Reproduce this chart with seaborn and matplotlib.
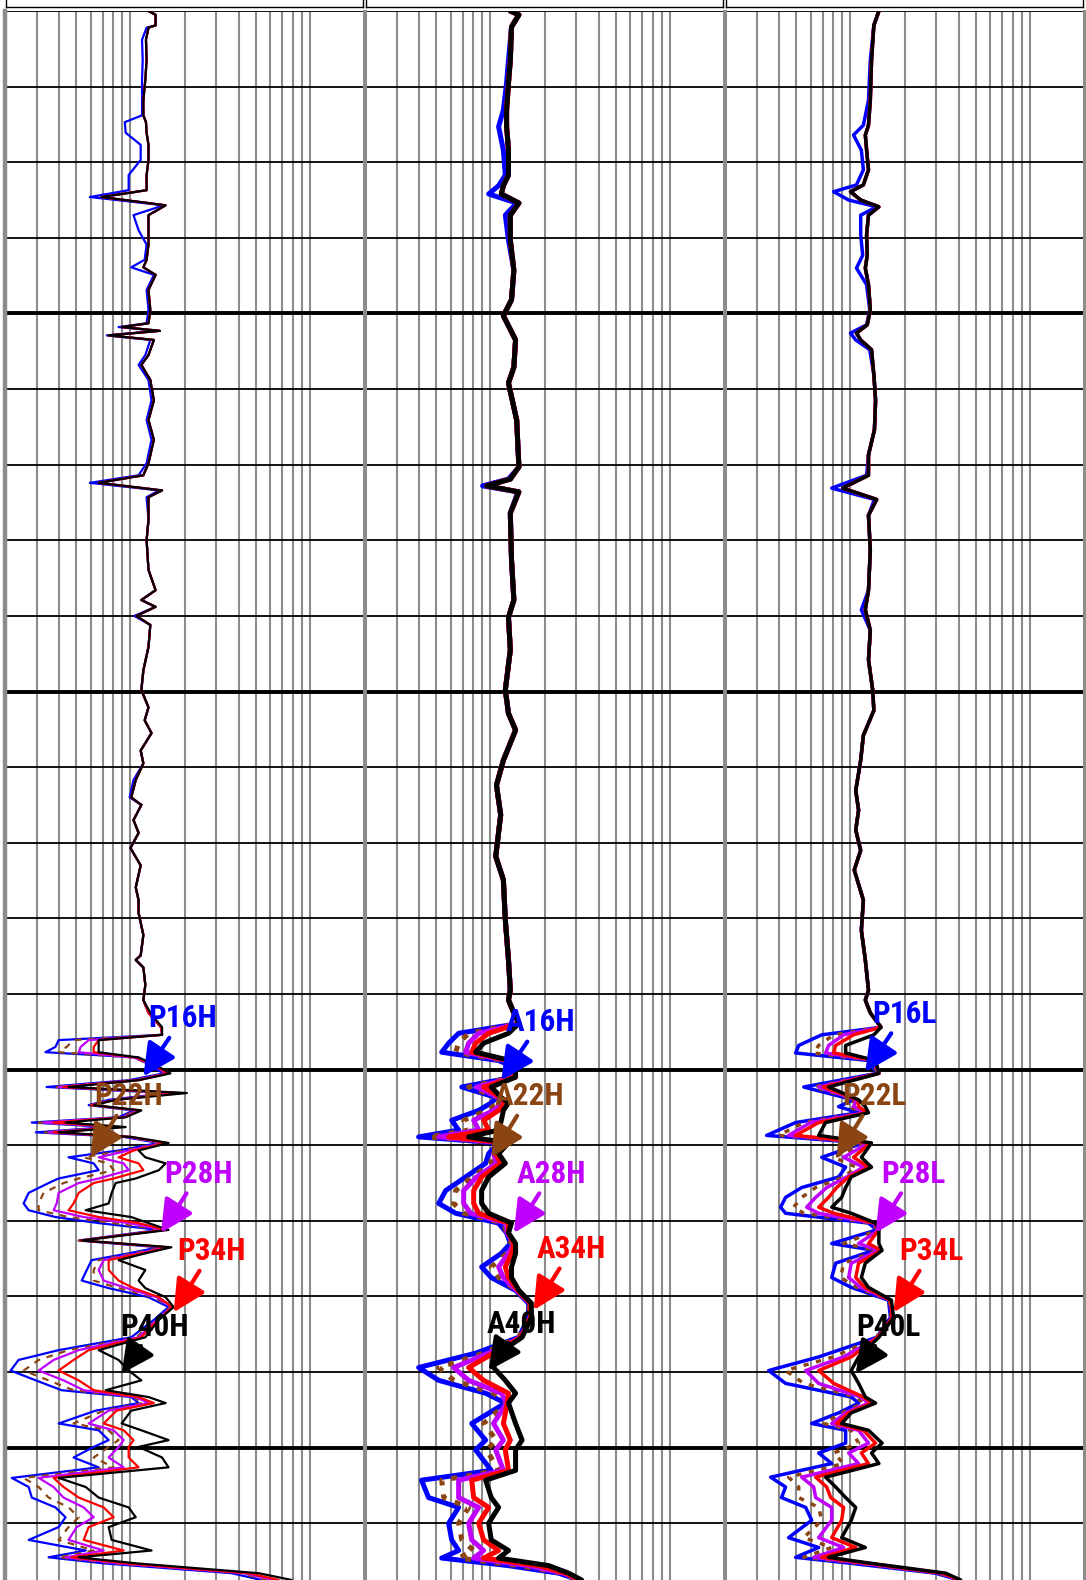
import matplotlib
matplotlib.use("Agg")
import matplotlib.pyplot as plt
from matplotlib import font_manager as fm
import seaborn as sns

# ---------------------------------------------------------------------
# Resistivity curves (ohm.m).
# Upper interval: the five curves nearly overlay, only blue drifts left.
# Lower interval: the five curves separate (blue < brown < purple < red < black)
# ---------------------------------------------------------------------

# ---- track 1 (P..H) ----
t1_upper_depth = [10.0, 10.5, 11.9, 12.2, 13.8, 16.5, 19.1, 21.8, 23.8, 24.7, 26.1, 27.7, 29.7, 31.7, 33.7, 34.6,
                  35.7, 37.0, 39.0, 40.9, 42.9, 43.9, 44.9, 46.9, 49.5, 51.3, 51.8, 52.3, 52.9, 53.5, 55.5, 56.8,
                  58.8, 61.5, 64.1, 66.7, 69.8, 71.4, 72.4, 73.4, 74.3, 77.3, 80.0, 83.9, 86.6, 87.9, 88.8, 90.0,
                  91.2, 94.1, 97.2, 99.8, 102.1, 103.8, 105.5, 107.8, 109.5, 111.7, 114.0, 115.0, 117.0, 118.7,
                  120.7, 123.0, 125.9, 127.6, 129.3, 132.2, 134.9, 135.5, 136.5, 138.8]
t1_upper_main = [12.6, 13.8, 13.8, 12.6, 12.2, 12.3, 12.1, 11.8, 11.8, 12.2, 12.3, 12.6, 12.6, 12.3, 12.3, 6.89,
                 15.7, 12.6, 12.6, 12.6, 12.3, 11.8, 13.8, 12.6, 12.9, 12.6, 8.94, 14.6, 7.56, 13.5, 12.6, 11.5,
                 12.9, 13.5, 12.6, 13.5, 12.6, 11.8, 6.65, 15.0, 12.6, 12.6, 12.3, 12.6, 13.8, 11.5, 13.8, 10.8,
                 12.9, 12.6, 11.8, 11.5, 12.6, 12.0, 13.1, 11.4, 11.8, 10.7, 10.1, 11.5, 10.4, 11.1,
                 10.0, 11.4, 10.7, 11.1, 11.1, 11.8, 11.4, 10.7, 11.8, 12.1]
t1_upper_blue = [12.6, 13.8, 13.8, 12.3, 11.6, 11.7, 11.6, 11.6, 11.6, 9.30, 9.40, 11.4, 11.4, 9.77, 9.77, 5.94,
                 15.3, 10.4, 11.1, 12.3, 12.0, 10.1, 13.5, 12.3, 12.6, 12.3, 8.59, 14.2, 7.38, 12.9, 12.1, 11.1,
                 12.6, 13.1, 12.3, 13.1, 12.3, 11.1, 5.94, 14.4, 12.3, 12.6, 12.3, 12.6, 13.8, 11.5, 13.8, 10.5,
                 12.9, 12.6, 11.8, 11.5, 12.6, 12.0, 13.1, 11.4, 11.8, 10.4, 9.9, 11.5, 10.4, 11.1,
                 10.0, 11.4, 10.7, 11.1, 11.1, 11.8, 11.4, 10.7, 11.8, 12.1]

t1_lower_depth = [140.8, 142.5, 144.4, 145.4, 146.1, 147.0, 147.7, 148.4, 149.4, 150.5, 151.4, 152.3, 153.1, 154.0,
                  154.7, 155.4, 156.3, 157.0, 157.6, 158.3, 158.9, 159.7, 160.7, 161.6, 162.4, 163.3, 164.4, 165.0,
                  166.3, 167.7, 168.6, 169.5, 170.3, 171.2, 172.6, 173.5, 174.3, 175.2, 176.5, 177.9, 178.9, 180.1,
                  181.4, 183.1, 185.4, 187.1, 188.4, 189.8, 191.1, 192.4, 193.3, 194.1, 195.1, 196.8, 197.7, 199.0,
                  199.9, 201.3, 202.6, 204.0, 205.2, 206.6, 207.9, 209.2, 210.5, 212.2, 213.6, 214.5, 215.3, 216.6,
                  217.5]
p16h = [11.8, 12.6, 14.8, 15.0, 3.98, 3.82, 3.36, 11.1, 12.6, 15.3, 9.77, 3.41, 16.3, 7.56, 5.85, 10.4, 8.59, 2.82,
        7.56, 2.97, 9.16, 14.4, 8.59, 4.52, 6.24, 6.65, 3.98, 3.50, 2.71, 2.54, 2.71, 3.82, 6.65, 14.4, 5.15, 14.4,
        9.77, 6.08, 5.71, 5.35, 7.56, 12.6, 16.3, 13.5, 10.1, 3.98, 2.38, 2.15, 2.97, 4.13, 10.1, 11.1, 6.40, 3.98,
        6.65, 7.56, 6.24, 4.82, 6.65, 2.18, 2.71, 2.82, 3.82, 4.35, 3.98, 2.71, 5.63, 3.50, 7.09, 36.6, 53.8]
p22h = [11.8, 12.6, 14.8, 15.0, 4.82, 4.41, 3.98, 10.4, 12.9, 15.7, 10.4, 3.73, 17.4, 8.06, 6.0, 10.8, 8.82, 3.08,
        8.06, 3.28, 9.52, 15.0, 9.16, 5.49, 7.56, 8.06, 5.15, 4.24, 3.28, 3.08, 3.08, 4.52, 8.06, 15.0, 5.15, 15.3,
        10.4, 6.65, 6.24, 6.24, 8.59, 13.5, 16.7, 13.8, 10.8, 4.52, 3.08, 2.54, 3.50, 4.82, 10.4, 11.8, 7.09, 4.82,
        7.56, 8.59, 7.56, 6.24, 8.06, 2.54, 3.08, 3.50, 4.52, 5.15, 4.52, 3.98, 6.24, 3.98, 8.06, 40.1, 58.9]
p28h = [11.8, 12.6, 14.8, 15.0, 5.85, 5.28, 5.15, 10.4, 13.5, 15.9, 10.8, 3.98, 18.1, 8.06, 6.08, 11.1, 9.04, 3.28,
        8.37, 3.50, 9.77, 15.3, 9.77, 6.65, 9.16, 9.77, 6.65, 5.15, 3.98, 3.88, 3.73, 5.49, 9.77, 15.3, 5.28, 15.9,
        11.1, 7.09, 6.65, 7.09, 9.52, 14.0, 17.0, 14.0, 11.1, 5.15, 3.73, 3.08, 4.24, 5.49, 10.7, 12.6, 7.56, 5.85,
        8.06, 9.16, 8.59, 7.56, 9.16, 3.08, 3.73, 4.24, 5.49, 6.24, 5.02, 4.52, 7.09, 4.35, 8.59, 42.8, 62.8]
p34h = [11.8, 12.6, 14.8, 15.0, 6.65, 6.24, 6.24, 10.8, 13.5, 16.3, 11.1, 4.24, 19.1, 8.27, 6.08, 11.4, 9.28, 3.73,
        8.82, 3.73, 10.0, 15.7, 10.4, 8.59, 11.1, 11.8, 8.06, 6.24, 5.15, 4.82, 4.52, 6.65, 11.1, 15.7, 5.28, 16.3,
        11.5, 7.56, 7.56, 8.59, 10.4, 14.4, 17.1, 14.2, 11.5, 5.85, 4.82, 3.98, 5.15, 6.24, 11.1, 13.5, 8.37, 7.09,
        9.16, 10.4, 9.77, 9.77, 11.1, 3.73, 4.24, 5.15, 7.09, 8.06, 5.85, 5.49, 9.16, 4.70, 9.52, 45.6, 67.0]
p40h = [11.8, 12.9, 15.0, 15.0, 6.65, 6.65, 6.65, 11.1, 13.8, 16.7, 11.1, 4.52, 20.6, 8.27, 6.24, 11.5, 9.40, 4.35,
        9.40, 3.98, 10.1, 16.3, 11.1, 12.1, 15.7, 14.4, 10.7, 8.27, 7.86, 7.56, 5.63, 10.1, 12.6, 16.3, 5.35, 16.9,
        12.1, 8.59, 12.1, 11.1, 12.1, 15.7, 17.4, 14.4, 12.1, 6.65, 8.59, 9.77, 11.5, 7.27, 12.6, 15.7, 10.1, 8.93,
        11.5, 16.3, 11.1, 15.0, 16.3, 3.98, 5.63, 6.65, 9.77, 10.7, 7.56, 7.86, 13.1, 5.15, 10.8, 51.8, 79.2]

# ---- track 2 (A..H) ----
t2_upper_depth = [10.0, 10.5, 12.1, 16.5, 19.5, 23.1, 25.3, 28.4, 31.7, 33.1, 34.2, 35.4, 37.0, 40.3, 44.3, 48.2,
                  50.3, 53.5, 57.1, 59.2, 64.1, 70.3, 71.9, 72.8, 73.6, 76.4, 82.6, 87.9, 90.2, 94.5, 99.8, 102.9,
                  105.1, 109.1, 112.4, 116.3, 121.8, 124.9, 130.2, 135.5, 139.5]
t2_upper_main = [12.9, 14.4, 13.1, 12.9, 12.6, 12.3, 12.3, 12.6, 12.6, 11.8, 11.5, 14.4, 12.9, 12.9, 13.5, 13.1,
                 11.8, 13.8, 13.5, 12.6, 14.0, 14.4, 12.9, 9.52, 14.4, 12.9, 13.1, 13.5, 12.6, 12.9, 12.1, 12.6,
                 13.8, 11.8, 10.8, 11.4, 10.7, 11.8, 12.1, 12.6, 12.9]
t2_upper_blue = [12.9, 14.4, 13.1, 12.6, 12.3, 11.8, 11.1, 11.8, 12.1, 11.1, 9.77, 14.0, 12.1, 12.6, 13.5, 13.1,
                 11.8, 13.8, 13.5, 12.6, 14.0, 14.4, 12.6, 9.04, 14.2, 12.9, 13.1, 13.5, 12.6, 12.9, 12.1, 12.6,
                 13.8, 11.8, 10.8, 11.4, 10.7, 11.8, 12.1, 12.6, 12.9]

t2_lower_depth = [140.8, 142.5, 143.9, 145.2, 146.5, 147.7, 148.8, 149.7, 151.0, 152.3, 153.7, 154.4, 155.4, 156.7,
                  158.0, 158.9, 159.7, 161.1, 162.4, 164.2, 166.0, 167.7, 169.0, 170.3, 171.6, 173.0, 174.3, 176.1,
                  177.5, 179.2, 180.9, 182.8, 185.4, 187.5, 189.4, 191.1, 192.8, 194.1, 196.8, 199.0, 200.3, 203.0,
                  204.3, 206.6, 207.9, 210.0, 212.2, 213.6, 214.6, 215.6, 216.6, 217.5]
a16h = [12.6, 13.5, 14.4, 6.65, 5.85, 5.35, 11.1, 13.5, 13.5, 6.92, 10.8, 10.1, 8.59, 6.08, 6.65, 3.98, 11.1, 9.77,
        9.40, 7.27, 5.63, 5.15, 6.40, 11.1, 12.3, 12.9, 11.5, 8.93, 10.1, 13.8, 16.3, 16.3, 14.4, 8.27, 3.98, 5.15,
        9.40, 12.1, 7.86, 9.40, 8.27, 10.1, 4.13, 4.52, 6.65, 5.85, 6.08, 6.65, 5.35, 12.6, 24.0, 31.0]
a22h = [12.6, 13.5, 14.4, 7.56, 6.65, 6.40, 11.8, 13.5, 13.5, 7.56, 11.1, 11.1, 9.52, 7.09, 7.56, 4.52, 11.5, 10.1,
        10.1, 7.86, 6.40, 6.24, 7.09, 11.8, 12.3, 13.1, 12.3, 10.1, 11.1, 14.0, 16.5, 16.3, 14.4, 9.16, 5.15, 6.24,
        10.4, 12.3, 9.16, 10.8, 9.52, 11.1, 5.35, 5.49, 7.56, 6.65, 6.92, 8.06, 6.65, 14.4, 25.0, 31.0]
a28h = [12.6, 13.5, 14.4, 8.59, 7.56, 7.27, 12.3, 13.5, 13.7, 8.37, 11.2, 11.8, 10.4, 8.06, 8.59, 5.15, 11.8, 10.4,
        10.8, 8.37, 7.09, 7.09, 7.76, 12.3, 12.4, 13.5, 12.6, 11.1, 11.8, 14.0, 16.7, 16.7, 14.8, 9.77, 6.24, 7.56,
        11.5, 12.3, 10.4, 11.8, 10.7, 11.8, 6.65, 6.65, 8.59, 7.56, 7.86, 9.16, 8.06, 16.3, 25.6, 31.8]
a34h = [12.6, 13.5, 14.4, 9.77, 8.27, 7.86, 12.6, 13.5, 13.7, 9.16, 11.4, 12.1, 11.1, 9.16, 9.77, 5.85, 12.3, 10.7,
        11.4, 8.93, 8.06, 8.06, 8.59, 12.6, 12.6, 13.5, 13.1, 12.1, 12.6, 14.2, 16.7, 16.7, 14.8, 10.4, 7.56, 9.16,
        12.6, 12.4, 11.8, 12.9, 12.1, 12.6, 7.86, 8.06, 9.77, 8.59, 9.16, 11.1, 9.16, 18.6, 26.3, 31.8]
a40h = [12.6, 13.5, 14.4, 12.6, 9.16, 8.27, 12.9, 13.8, 13.8, 10.1, 11.5, 12.6, 11.8, 11.5, 11.1, 7.56, 12.6, 11.1,
        12.1, 9.77, 8.93, 8.93, 9.77, 13.1, 12.6, 13.8, 13.8, 13.1, 13.1, 14.4, 16.9, 16.9, 15.0, 11.1, 10.4, 12.1,
        13.8, 12.6, 13.8, 15.0, 13.8, 13.8, 9.40, 10.1, 11.1, 9.77, 10.1, 12.6, 11.1, 21.1, 27.3, 32.2]

# ---- track 3 (P..L) ----
t3_upper_depth = [10.0, 11.9, 16.5, 21.8, 25.1, 26.4, 28.4, 31.0, 33.0, 33.9, 35.0, 35.9, 37.0, 39.6, 42.3, 44.0,
                  46.2, 49.5, 51.5, 52.6, 53.5, 54.8, 58.1, 61.5, 65.4, 68.7, 71.4, 73.1, 74.6, 76.7, 81.3, 86.6,
                  89.2, 91.9, 95.8, 99.8, 102.5, 105.8, 109.1, 113.1, 115.7, 118.3, 121.0, 123.6, 127.6, 131.6,
                  135.5, 139.5]
t3_upper_main = [14.4, 13.5, 13.1, 12.9, 12.6, 12.1, 12.3, 12.6, 11.8, 10.0, 11.4, 14.4, 12.6, 12.3, 12.4, 12.1,
                 12.6, 12.9, 12.4, 10.8, 11.4, 13.1, 13.5, 13.8, 13.6, 12.6, 12.6, 9.04, 14.0, 12.6, 12.9, 12.6,
                 12.1, 12.9, 12.6, 13.3, 13.5, 11.8, 11.4, 10.7, 11.1, 10.7, 11.4, 10.5, 11.8, 11.5, 12.1, 12.6]
t3_upper_blue = [14.4, 13.5, 12.9, 12.6, 11.8, 10.4, 11.5, 11.8, 10.8, 8.06, 9.77, 14.0, 11.4, 11.4, 11.7, 10.8,
                 12.3, 12.8, 12.3, 10.0, 10.7, 12.8, 13.5, 13.8, 13.6, 12.6, 12.3, 7.86, 13.6, 12.6, 12.9, 12.6,
                 11.5, 12.9, 12.6, 13.3, 13.5, 11.8, 11.4, 10.7, 11.1, 10.7, 11.4, 10.5, 11.8, 11.5, 12.1, 12.6]

t3_lower_depth = [140.8, 142.5, 144.4, 145.4, 146.8, 147.8, 148.8, 150.5, 152.3, 154.0, 154.9, 155.7, 157.0, 158.7,
                  159.7, 161.6, 162.9, 164.2, 165.6, 166.9, 168.2, 169.0, 170.3, 171.2, 173.0, 173.9, 175.6, 177.5,
                  178.8, 180.5, 182.8, 185.4, 188.0, 189.8, 191.5, 193.3, 194.1, 195.4, 196.8, 197.7, 199.4, 200.7,
                  202.1, 203.9, 205.2, 206.6, 207.9, 209.6, 211.9, 213.2, 214.5, 215.3, 216.6, 217.5]
p16l = [12.1, 12.9, 14.8, 6.92, 5.15, 4.95, 12.6, 14.0, 5.49, 10.4, 8.59, 11.1, 4.95, 3.41, 11.8, 6.92, 9.40, 8.59,
        5.35, 4.35, 4.08, 4.35, 12.6, 14.0, 7.86, 13.5, 8.27, 7.86, 10.1, 16.3, 16.7, 14.0, 6.65, 3.50, 4.35, 10.1,
        11.1, 8.59, 6.08, 9.40, 9.40, 6.65, 7.86, 3.59, 4.35, 4.13, 5.63, 6.08, 4.52, 6.65, 4.95, 10.1, 29.8, 40.1]
p22l = [12.1, 12.9, 14.8, 8.06, 6.65, 6.24, 13.1, 14.2, 6.24, 10.7, 9.77, 11.8, 5.49, 3.98, 12.3, 8.06, 10.8, 9.16,
        6.40, 5.35, 4.82, 5.49, 13.1, 14.2, 9.16, 14.0, 9.16, 8.82, 10.8, 16.5, 16.9, 14.0, 8.06, 4.35, 5.49, 10.8,
        11.8, 8.93, 7.09, 10.1, 11.1, 8.06, 9.16, 4.52, 5.15, 5.15, 6.65, 6.92, 5.49, 7.86, 5.49, 11.1, 31.0, 40.1]
p28l = [12.1, 12.9, 14.8, 9.16, 7.56, 7.27, 13.5, 14.4, 6.65, 10.8, 10.4, 12.1, 6.00, 4.52, 12.6, 9.16, 11.8, 9.52,
        7.37, 6.40, 5.70, 6.65, 13.5, 14.4, 11.1, 14.4, 10.1, 9.77, 11.4, 16.7, 17.1, 14.2, 9.16, 5.63, 6.65, 11.4,
        12.6, 9.40, 7.86, 11.1, 12.6, 9.77, 11.1, 5.35, 6.24, 6.40, 7.86, 7.86, 6.65, 9.16, 6.24, 11.8, 31.8, 40.6]
p34l = [12.1, 12.9, 14.8, 10.4, 8.27, 8.06, 13.7, 14.4, 7.09, 11.0, 11.1, 12.4, 6.65, 4.95, 12.9, 10.4, 12.6, 9.77,
        8.37, 7.56, 6.65, 8.06, 13.7, 14.4, 12.6, 14.8, 11.1, 10.7, 12.0, 16.7, 17.1, 14.2, 10.1, 6.65, 8.06, 11.8,
        13.1, 9.77, 8.37, 11.8, 13.8, 11.5, 12.6, 6.40, 7.37, 7.76, 9.16, 8.93, 7.86, 10.7, 6.92, 12.6, 32.6, 40.6]
p40l = [12.1, 12.9, 14.8, 13.5, 9.40, 9.40, 13.8, 14.4, 7.56, 11.1, 12.1, 12.6, 7.27, 6.65, 13.1, 11.5, 13.1, 10.1,
        9.40, 8.93, 7.86, 10.1, 13.8, 14.4, 14.4, 15.0, 12.1, 11.5, 12.6, 16.9, 17.4, 14.4, 11.1, 10.1, 11.1, 12.1,
        13.8, 10.1, 8.93, 12.6, 15.0, 13.1, 14.4, 7.27, 8.27, 9.40, 10.7, 10.1, 8.93, 12.1, 7.56, 13.1, 34.0, 41.1]

# curve labels and the point on the log each arrow points at
t1_labels = ["P16H", "P22H", "P28H", "P34H", "P40H"]
t1_tip_val = [11.8, 6.0, 14.8, 17.4, 8.93]
t1_tip_depth = [150.9, 161.6, 171.6, 182.1, 190.2]
t2_labels = ["A16H", "A22H", "A28H", "A34H", "A40H"]
t2_tip_val = [11.5, 10.1, 13.5, 17.4, 9.77]
t2_tip_depth = [151.4, 161.6, 171.6, 181.8, 189.8]
t3_labels = ["P16L", "P22L", "P28L", "P34L", "P40L"]
t3_tip_val = [12.1, 8.37, 13.8, 17.4, 10.7]
t3_tip_depth = [150.3, 161.6, 171.6, 182.1, 190.2]

curve_colors = ["#0000ff", "#8b4513", "#bf00ff", "#ff0000", "#000000"]

# ---------------------------------------------------------------------
sns.set_style("white")

# labels use a narrow bold face; pick whichever condensed family is installed
names = {f.name for f in fm.fontManager.ttflist}
condensed = {f.name for f in fm.fontManager.ttflist if f.stretch in ("condensed", "semi-condensed")}
label_font = dict(family=["DejaVu Sans"], fontsize=17)
for fam in ["Liberation Sans Narrow", "Roboto Condensed", "Open Sans Condensed", "Noto Sans Condensed"]:
    if fam in names:
        label_font = dict(family=[fam, "DejaVu Sans"], fontsize=22.5)
        break
else:
    for fam in ["Roboto", "Noto Sans", "Open Sans", "DejaVu Sans"]:
        if fam in condensed:
            label_font = dict(family=[fam, "DejaVu Sans"], fontstretch="condensed", fontsize=22.5)
            break
plt.rcParams["font.family"] = ["DejaVu Sans"]

W, H = 1086, 1580
fig = plt.figure(figsize=(W / 100, H / 100), dpi=100)

tracks = [
    (t1_upper_depth, t1_upper_main, t1_upper_blue, t1_lower_depth, [p16h, p22h, p28h, p34h, p40h],
     t1_labels, t1_tip_val, t1_tip_depth, 1.6, (3, 3)),
    (t2_upper_depth, t2_upper_main, t2_upper_blue, t2_lower_depth, [a16h, a22h, a28h, a34h, a40h],
     t2_labels, t2_tip_val, t2_tip_depth, 3.6, (1.2, 1.8)),
    (t3_upper_depth, t3_upper_main, t3_upper_blue, t3_lower_depth, [p16l, p22l, p28l, p34l, p40l],
     t3_labels, t3_tip_val, t3_tip_depth, 2.5, (1.5, 2.2)),
]

grid_vals = [3, 4, 5, 6, 7, 8, 9, 10, 20, 30, 40, 50, 60, 70, 80, 90, 100]
label_offsets = [(39, 58), (38, 61), (38, 59), (38, 61), (33, 47)]

for i, (ud, um, ub, ld, lows, labels, tip_v, tip_d, lw, dash) in enumerate(tracks):
    left = (5 + 360 * i) / W
    ax = fig.add_axes([left, 0, 359 / W, (H - 11) / H])
    ax.set_xscale("log")
    ax.set_xlim(2, 200)
    ax.set_ylim(217.5, 10)

    for g in grid_vals:
        ax.axvline(g, color="#8c8c8c", lw=1.5, zorder=0.5)
    for d in range(10, 220, 10):
        ax.axhline(d, color="black", lw=2.8 if d % 50 == 0 else 1.3, zorder=0.6)

    for k, (vals, col) in enumerate(zip(lows, curve_colors)):
        upper = ub if k == 0 else um
        kw = dict(linestyle=(0, dash)) if k == 1 else {}
        sns.lineplot(x=upper + vals, y=ud + ld, sort=False, estimator=None, color=col,
                     lw=lw, ax=ax, legend=False, zorder=2 + k, **kw)

    for lab, v, d, col, off in zip(labels, tip_v, tip_d, curve_colors, label_offsets):
        ax.annotate(lab, xy=(v, d), xytext=off, textcoords="offset pixels",
                    ha="center", va="center", color=col, fontweight="bold",
                    annotation_clip=False, zorder=10, **label_font,
                    arrowprops=dict(arrowstyle="-|>,head_length=1.1,head_width=0.55", color=col,
                                    lw=3, mutation_scale=18, shrinkA=1, shrinkB=0))

    ax.set_xticks([])
    ax.set_yticks([])
    ax.minorticks_off()
    ax.set_xlabel("")
    ax.set_ylabel("")
    for s in ["top", "bottom"]:
        ax.spines[s].set_visible(False)
    for s in ["left", "right"]:
        ax.spines[s].set_color("#8c8c8c")
        ax.spines[s].set_linewidth(3.2 if (i == 0 and s == "left") else 2.2)

    # header box above each track
    hax = fig.add_axes([(6 + 360 * i) / W, (H - 7) / H, 357 / W, 20 / H])
    hax.set_xticks([])
    hax.set_yticks([])
    for s in hax.spines.values():
        s.set_color("black")
        s.set_linewidth(1.0)

fig.savefig("out.png", dpi=100)
